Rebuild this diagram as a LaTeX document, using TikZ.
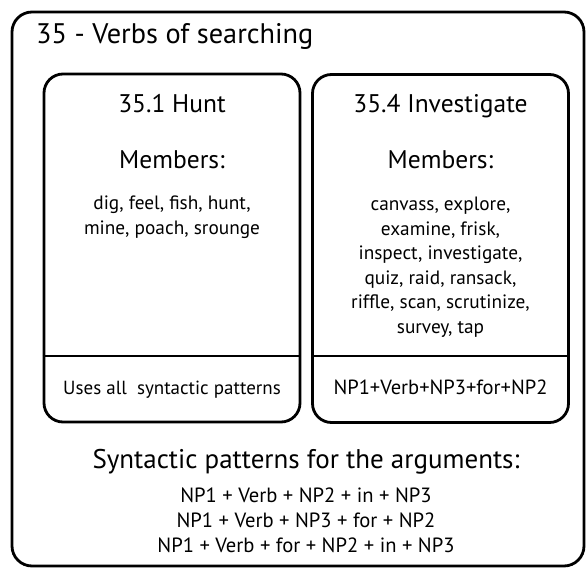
\documentclass[tikz,border=0pt]{standalone}
\usepackage{fontspec}
\setmainfont{PT Sans}
\usetikzlibrary{positioning,calc}

\begin{document}
\begin{tikzpicture}[x=1pt,y=-1pt,frame/.style={draw,line width=2.8pt,rounded corners=20pt,inner sep=0pt},classbox/.style={draw,line width=2.8pt,rounded corners=19pt,inner sep=0pt,minimum width=256pt,minimum height=348pt},divider/.style={line width=2.8pt},heading/.style={inner sep=0pt,anchor=base,font=\fontsize{25.5}{30}\selectfont},members/.style={inner sep=0pt,anchor=base,align=center,font=\fontsize{19.3}{24.5}\selectfont},pattern/.style={inner sep=0pt,anchor=base,font=\fontsize{19}{24}\selectfont}]
\useasboundingbox (0,0) rectangle (587,568);
\node[frame,minimum width=572pt,minimum height=554pt] (verbs) at (298,289) {};
\node[inner sep=0pt,anchor=base west,font=\fontsize{28.3}{32}\selectfont] (verbsname) at (36,43) {35 - Verbs of searching};
\node[classbox] (hunt) at (172,248) {};
\node[classbox] (investigate) at (440.5,248.5) {};
\coordinate (split) at (0,356);
\draw[divider] (hunt.west |- split) -- (hunt.east |- split);
\draw[divider] (investigate.west |- split) -- (investigate.east |- split);
\node[heading] (huntname) at (172,112) {35.1 Hunt};
\node[heading] (huntmembers) at ([yshift=-56pt]huntname.base) {Members:};
\node[members] (huntlist) at ([yshift=-66pt]huntmembers.base) {dig, feel, fish, hunt,\\mine, poach, srounge};
\node[heading] (investname) at (440.5,112) {35.4 Investigate};
\node[heading] (investmembers) at ([yshift=-56pt]investname.base) {Members:};
\node[members] (investlist) at ([yshift=-165pt]investmembers.base) {canvass, explore,\\examine, frisk,\\inspect, investigate,\\quiz, raid, ransack,\\riffle, scan, scrutinize,\\survey, tap};
\node[pattern] (huntsyntax) at (172,394) {Uses all~ syntactic patterns};
\node[pattern,font=\fontsize{20.5}{24}\selectfont] (investsyntax) at (440.5,394) {NP1+Verb+NP3+for+NP2};
\node[heading,font=\fontsize{27}{32}\selectfont] (patterns) at (306,468) {Syntactic patterns for the arguments:};
\node[pattern,font=\fontsize{20.6}{25}\selectfont] (first) at ([yshift=-34pt]patterns.base) {NP1 + Verb + NP2 + in + NP3};
\node[pattern,font=\fontsize{20.6}{25}\selectfont] (second) at ([yshift=-25pt]first.base) {NP1 + Verb + NP3 + for + NP2};
\node[pattern,font=\fontsize{20.6}{25}\selectfont] (third) at ([yshift=-25pt]second.base) {NP1 + Verb + for + NP2 + in + NP3};
\end{tikzpicture}
\end{document}
